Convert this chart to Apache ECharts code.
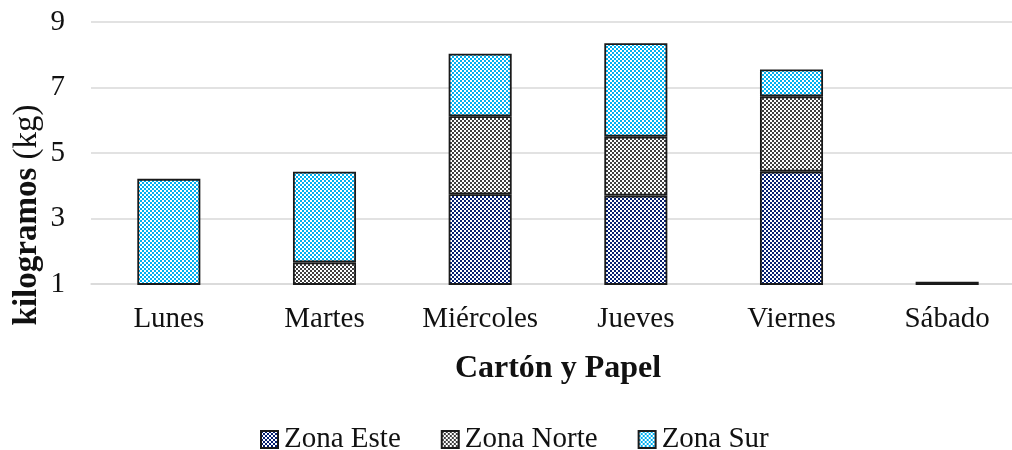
<!DOCTYPE html>
<html>
<head>
<meta charset="utf-8">
<script src="https://cdn.jsdelivr.net/npm/echarts@6/dist/echarts.min.js"></script>
<style>
html,body{margin:0;padding:0;background:#fff;}
#chart{width:1012px;height:450px;}
</style>
</head>
<body>
<div id="chart"></div>
<script>
const categories = ['Lunes', 'Martes', 'Miércoles', 'Jueves', 'Viernes', 'Sábado'];
const zonaEste  = [0, 0, 3.74, 3.70, 4.43, 0];
const zonaNorte = [0, 1.66, 2.38, 1.80, 2.30, 0];
const zonaSur   = [4.21, 2.77, 1.91, 2.85, 0.82, 1.07];
const yTicks = [1, 3, 5, 7, 9];
const seriesNames = ['Zona Este', 'Zona Norte', 'Zona Sur'];
const seriesColors = ['#062070', '#404040', '#00b0f0'];

const FONT = '"Liberation Serif", "Times New Roman", serif';

function checker(color) {
  const c = document.createElement('canvas');
  c.width = 4; c.height = 4;
  const ctx = c.getContext('2d');
  ctx.fillStyle = '#ffffff';
  ctx.fillRect(0, 0, 4, 4);
  ctx.fillStyle = color;
  ctx.fillRect(0, 0, 2, 2);
  ctx.fillRect(2, 2, 2, 2);
  return { image: c, repeat: 'repeat' };
}

const dataSets = [zonaEste, zonaNorte, zonaSur];
const series = seriesNames.map((name, i) => ({
  name: name,
  type: 'bar',
  stack: 'total',
  barWidth: '40.5%',
  data: dataSets[i],
  itemStyle: {
    color: checker(seriesColors[i]),
    borderColor: '#1a1a1a',
    borderWidth: 1.8
  },
  emphasis: { disabled: true }
}));

const chart = echarts.init(document.getElementById('chart'), null, { renderer: 'canvas' });
chart.setOption({
  animation: false,
  backgroundColor: '#ffffff',
  grid: { left: 91, width: 934, top: 22, bottom: 166, containLabel: false, outerBoundsMode: 'none' },
  legend: {
    data: seriesNames,
    top: 420,
    left: 255,
    icon: 'rect',
    itemWidth: 17,
    itemHeight: 17,
    itemGap: 40,
    textStyle: { fontFamily: FONT, fontSize: 29, color: '#111', padding: [0, 0, 0, 1] }
  },
  xAxis: {
    type: 'category',
    data: categories,
    name: 'Cartón y Papel',
    nameLocation: 'middle',
    nameGap: 69,
    nameTextStyle: { fontFamily: FONT, fontSize: 32, fontWeight: 'bold', color: '#111' },
    axisLine: { show: true, lineStyle: { color: '#d9d9d9', width: 1.5 } },
    axisTick: { show: false },
    axisLabel: { interval: 0, margin: 21, fontFamily: FONT, fontSize: 29, color: '#111' }
  },
  yAxis: {
    type: 'value',
    min: yTicks[0],
    max: yTicks[yTicks.length - 1],
    interval: 2,
    axisLine: { show: false },
    axisTick: { show: false },
    axisLabel: { margin: 26, fontFamily: FONT, fontSize: 29, color: '#111' },
    splitLine: { show: true, lineStyle: { color: '#d9d9d9', width: 1.5 } }
  },
  graphic: [{
    type: 'text',
    x: 27,
    y: 215,
    rotation: Math.PI / 2,
    style: {
      text: '{b|kilogramos}{n| (kg)}',
      align: 'center',
      verticalAlign: 'middle',
      fill: '#111',
      rich: {
        b: { fontFamily: FONT, fontSize: 33, fontWeight: 'bold', fill: '#111' },
        n: { fontFamily: FONT, fontSize: 33, fill: '#111' }
      }
    }
  }],
  series: series
});
</script>
</body>
</html>
